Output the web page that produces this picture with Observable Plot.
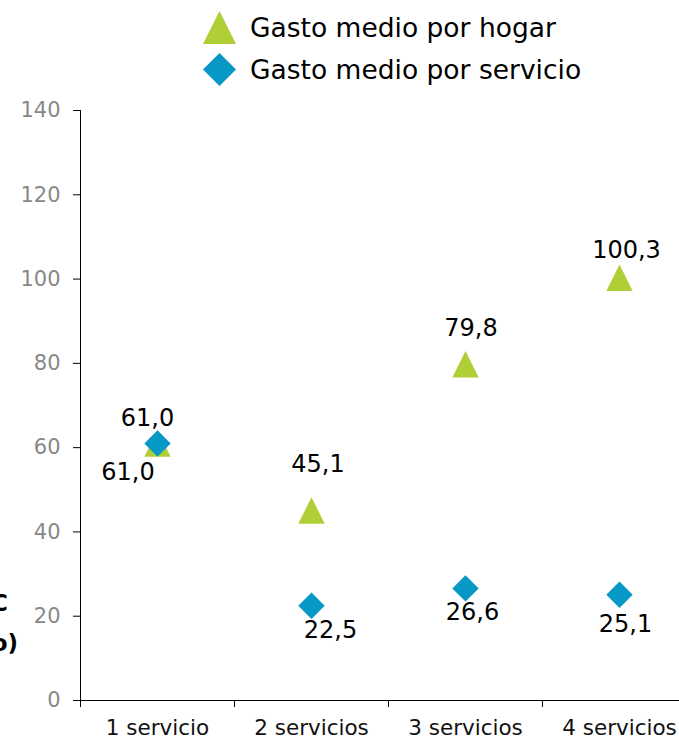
<!DOCTYPE html>
<html>
<head>
<meta charset="utf-8">
<script src="https://cdn.jsdelivr.net/npm/d3@7"></script>
<script src="https://cdn.jsdelivr.net/npm/@observablehq/plot@0.6"></script>
<style>
  html, body { margin: 0; padding: 0; background: #fff; }
  body { width: 679px; height: 740px; overflow: hidden; position: relative; font-family: "DejaVu Sans", Verdana, sans-serif; }
  #legend { position: relative; height: 90px; }
  .item { position: absolute; left: 203px; display: flex; align-items: center; height: 34px; font-size: 26.5px; color: #000; white-space: nowrap; }
  .item svg { margin-right: 14px; }
  .ytitle { position: absolute; left: -600px; width: 600px; text-align: right; font-weight: bold; font-size: 23px; line-height: 23px; white-space: nowrap; color: #000; }
</style>
</head>
<body>
<div id="legend"></div>
<div id="chart"></div>
<script>
const categories = ["1 servicio", "2 servicios", "3 servicios", "4 servicios"];
const gastoHogar = [61.0, 45.1, 79.8, 100.3];
const gastoServicio = [61.0, 22.5, 26.6, 25.1];
const yTicks = [0, 20, 40, 60, 80, 100, 120, 140];
const seriesNames = ["Gasto medio por hogar", "Gasto medio por servicio"];
const yTitleLines = ["Gasto medio, CNMC", "(euros/mes, IVA incluido)"];

const green = "#b0cf36";
const blue = "#0898c5";

// label offsets (style only)
const hogarOffsets = [[-29.5, 28.5], [6.5, -46], [5.5, -36], [7, -27]];
const servicioOffsets = [[-10, -25], [19, 25], [7, 24], [6, 30]];

const triangle = {
  draw(ctx, size) {
    const r = Math.sqrt(size / Math.PI);
    ctx.moveTo(0, -r); ctx.lineTo(r, r); ctx.lineTo(-r, r); ctx.closePath();
  }
};
const diamond = {
  draw(ctx, size) {
    const r = Math.sqrt(size / Math.PI);
    ctx.moveTo(0, -r); ctx.lineTo(r, 0); ctx.lineTo(0, r); ctx.lineTo(-r, 0); ctx.closePath();
  }
};

const hogar = categories.map((c, i) => ({cat: c, value: gastoHogar[i], i}));
const servicio = categories.map((c, i) => ({cat: c, value: gastoServicio[i], i}));
const fmt = v => v.toFixed(1).replace(".", ",");

function labelMarks(data, offsets) {
  return data.map((d, i) => Plot.text([d], {
    x: "cat", y: "value", text: d => fmt(d.value),
    dx: offsets[i][0], dy: offsets[i][1],
    fontSize: 24, fill: "#000"
  }));
}

const chart = Plot.plot({
  width: 679,
  height: 650,
  marginTop: 20,
  marginBottom: 40,
  marginLeft: 80,
  marginRight: 0,
  style: { fontFamily: "DejaVu Sans, Verdana, sans-serif", background: "#fff" },
  x: { type: "band", domain: categories, range: [80, 696], padding: 0, label: null },
  y: { domain: [0, 140], label: null },
  marks: [
    Plot.axisY(yTicks, { tickSize: 0, tickPadding: 20, fontSize: 21, fill: "#888", stroke: "none", label: null }),
    Plot.axisY(yTicks, { tickSize: 7, tickFormat: () => "", stroke: "#000", label: null }),
    Plot.ruleX([categories[0]], { dx: -77, y1: 0, y2: 140, stroke: "#000" }),
    Plot.ruleY([0], { stroke: "#000" }),
    Plot.ruleX(categories, { dx: -77, y1: 0, y2: -1.66, stroke: "#000" }),
    Plot.axisX({ tickSize: 0, tickPadding: 19, fontSize: 21.5, fill: "#111", label: null }),
    Plot.dot(hogar, { x: "cat", y: "value", symbol: triangle, r: 13.2, fill: green, stroke: "none" }),
    Plot.dot(servicio, { x: "cat", y: "value", symbol: diamond, r: 13.2, fill: blue, stroke: "none" }),
    ...labelMarks(hogar, hogarOffsets),
    ...labelMarks(servicio, servicioOffsets)
  ]
});
document.getElementById("chart").appendChild(chart);

// legend
const legend = document.getElementById("legend");
const legendShapes = [
  `<svg width="33" height="33"><polygon points="16.5,0 33,33 0,33" fill="${green}"/></svg>`,
  `<svg width="33" height="33"><polygon points="16.5,0 33,16.5 16.5,33 0,16.5" fill="${blue}"/></svg>`
];
const legendTops = [10, 52];
seriesNames.forEach((name, i) => {
  const div = document.createElement("div");
  div.className = "item";
  div.style.top = legendTops[i] + "px";
  div.innerHTML = legendShapes[i] + `<span>${name}</span>`;
  legend.appendChild(div);
});

// cut-off y-axis title at left edge
const titleRights = [8, 18];
const titleTops = [591.5, 631.5];
yTitleLines.forEach((t, i) => {
  const div = document.createElement("div");
  div.className = "ytitle";
  div.style.left = (titleRights[i] - 600) + "px";
  div.style.top = titleTops[i] + "px";
  div.textContent = t;
  document.body.appendChild(div);
});
</script>
</body>
</html>
